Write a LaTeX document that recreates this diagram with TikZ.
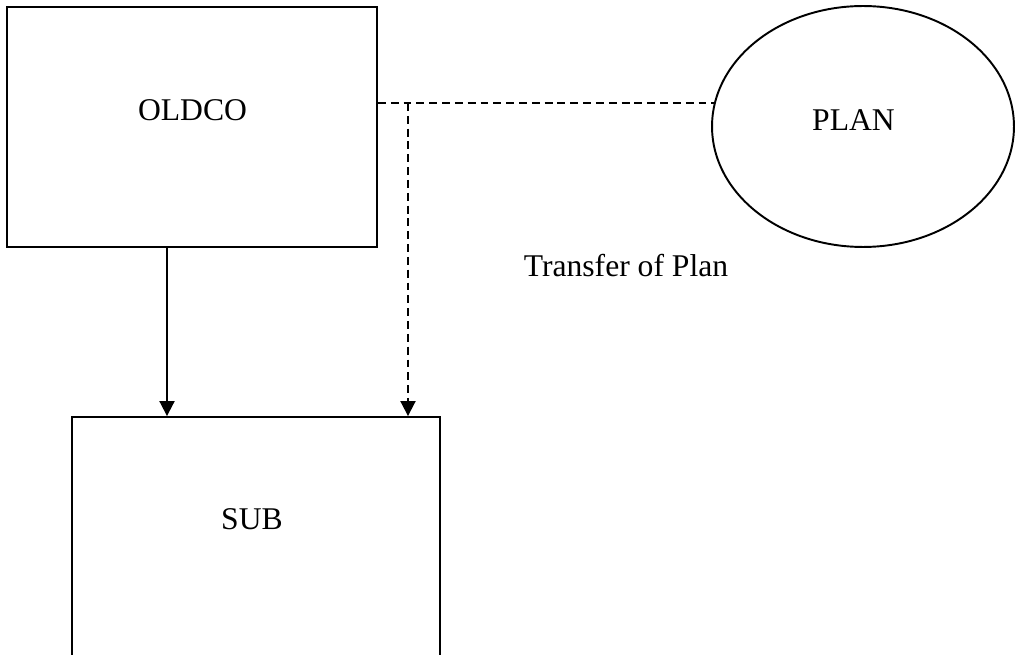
\documentclass[tikz,border=0pt]{standalone}
\usepackage{fontspec}
\setmainfont{Liberation Serif}
\usetikzlibrary{arrows.meta,shapes.geometric}
\begin{document}
\begin{tikzpicture}[x=0.02cm,y=-0.02cm,
  firm/.style={draw,line width=1.1pt,rectangle,inner sep=0pt},
  plan/.style={draw,line width=1.1pt,ellipse,inner sep=0pt},
  lbl/.style={anchor=base,inner sep=0pt,font=\fontsize{18pt}{22pt}\selectfont},
  flow/.style={line width=1.1pt,-{Triangle[length=0.3cm,width=0.3cm]}},
  link/.style={line width=1.1pt,dash pattern=on 4.5pt off 2.8pt}]
\useasboundingbox (0,0) rectangle (1019,655);
\clip (0,0) rectangle (1019,655);
\node[firm,minimum width=7.4cm,minimum height=4.8cm] (oldco) at (192,127) {};
\node[firm,minimum width=7.36cm,minimum height=6.0cm] (sub) at (256,567) {};
\node[plan,minimum width=6.04cm,minimum height=4.82cm] (plan) at (863,126.5) {};
\node[lbl] (oldcotext) at (192.5,120.5) {OLDCO};
\node[lbl] (subtext) at (252,530) {SUB};
\node[lbl] (plantext) at (853.5,131) {PLAN};
\node[lbl] (transfer) at (626,277) {Transfer of Plan};
\coordinate (split) at (408,103);
\draw[link] (oldco.east |- plan.171) -- (plan.171);
\draw[link,-{Triangle[length=0.3cm,width=0.3cm]}] (split) -- (split |- sub.north);
\draw[flow] ([xshift=-0.5cm]oldco.south) -- ([xshift=-0.5cm]oldco.south |- sub.north);
\end{tikzpicture}
\end{document}
